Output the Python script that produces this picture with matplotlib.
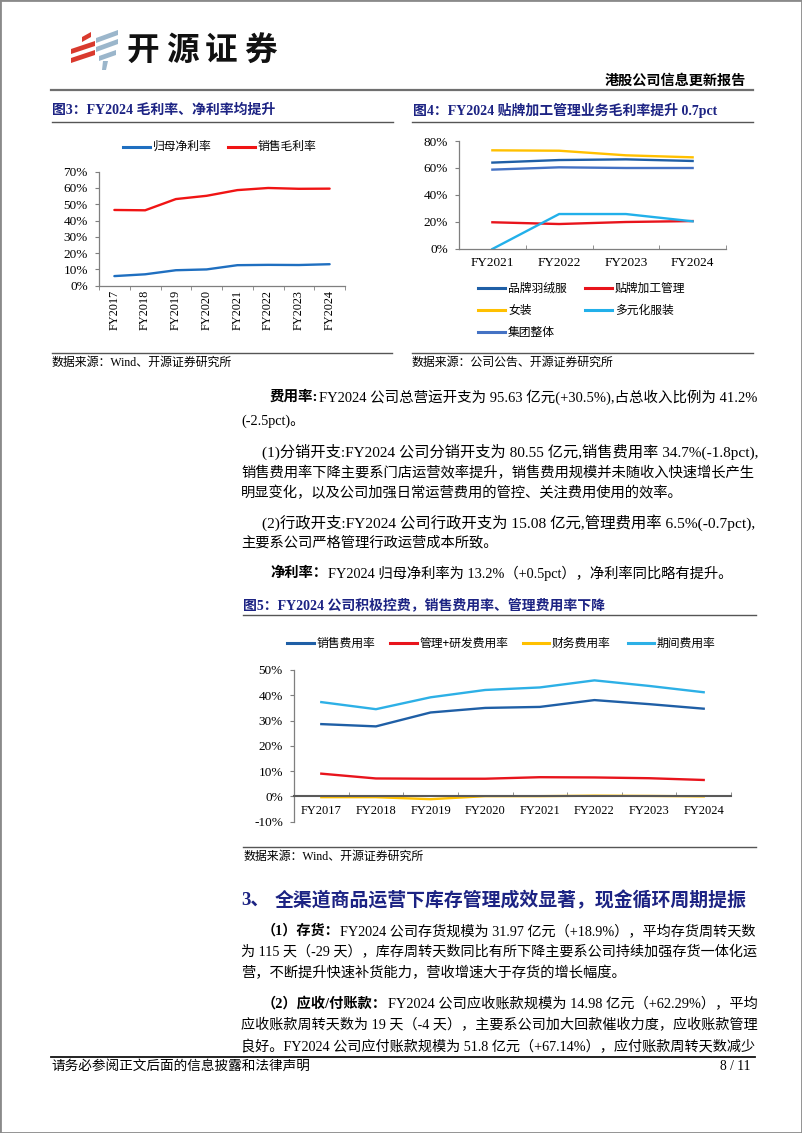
import numpy as np
import matplotlib.pyplot as plt
from matplotlib.lines import Line2D
from matplotlib.patches import Polygon, Rectangle
from matplotlib.ticker import FuncFormatter

W, H = 802, 1133
MIX = ['Liberation Serif', 'Noto Sans CJK SC']
CJK = ['Noto Sans CJK SC', 'DejaVu Sans']
NAVY = '#1c2383'

# 图3 data
years_a = ['FY2017', 'FY2018', 'FY2019', 'FY2020', 'FY2021', 'FY2022', 'FY2023', 'FY2024']
net_margin = [5.9, 7.0, 9.5, 10.0, 12.6, 12.8, 12.7, 13.2]
gross_margin = [46.5, 46.3, 53.2, 55.2, 58.7, 60.0, 59.5, 59.6]

# 图4 data
years_b = ['FY2021', 'FY2022', 'FY2023', 'FY2024']
down_gm = [64.0, 65.9, 66.4, 65.2]
oem_gm = [19.8, 18.5, 20.0, 20.7]
women_gm = [73.1, 72.8, 69.4, 67.9]
diversified_gm = [0.0, 25.9, 25.9, 20.5]
group_gm = [58.8, 60.5, 60.0, 60.0]

# 图5 data
selling_rate = [28.6, 27.7, 33.2, 35.0, 35.4, 38.1, 36.5, 34.7]
admin_rd_rate = [9.0, 7.1, 7.0, 7.0, 7.6, 7.5, 7.2, 6.5]
finance_rate = [-0.3, -0.3, -1.1, 0.1, 0.1, 0.3, 0.2, 0.0]
period_rate = [37.3, 34.5, 39.2, 42.1, 43.1, 45.9, 43.7, 41.2]

fig = plt.figure(figsize=(W / 100, H / 100), dpi=100)
rend = fig.canvas.get_renderer()


def fx(x):
    return x / W


def fy(y):
    return 1 - y / H


def put(x, y, s, size, bold=False, color='black', ha='left', family=MIX):
    return fig.text(fx(x), fy(y), s, fontsize=size, ha=ha, va='center',
                    fontweight='bold' if bold else 'normal', color=color, family=family)


def put_line(x, y, runs, size, right=None, color='black'):
    # draws the runs one after another; with right set, scales the size so the line fills it
    def draw(sz):
        cx = x
        out = []
        for s, bold in runs:
            t = put(cx, y, s, sz, bold, color)
            cx = t.get_window_extent(rend).x1 + 0.5
            out.append(t)
        return out, cx
    texts, end = draw(size)
    if right is not None:
        f = (right - x) / (end - x)
        for t in texts:
            t.remove()
        draw(size * f)


def hline(x0, x1, y, lw, color):
    fig.add_artist(Line2D([fx(x0), fx(x1)], [fy(y), fy(y)], lw=lw, color=color))


def poly(pts, color):
    fig.add_artist(Polygon([(fx(a), fy(b)) for a, b in pts], closed=True,
                           color=color, transform=fig.transFigure, lw=0))


def legend_item(x0, x1, y, color, label):
    fig.add_artist(Line2D([fx(x0), fx(x1)], [fy(y), fy(y)], lw=2.2, color=color))
    put(x1 + 3, y, label, 8.5, family=CJK)


def add_ax(l, t, r, b):
    return fig.add_axes([fx(l), fy(b), (r - l) / W, (b - t) / H])


def style_ax(ax, n, ylo, yhi, step, tick_dir, xpad):
    for s in ['top', 'right']:
        ax.spines[s].set_visible(False)
    for s in ['left', 'bottom']:
        ax.spines[s].set_color('#7f7f7f')
        ax.spines[s].set_linewidth(0.9)
    ax.set_xlim(-0.5, n - 0.5)
    ax.set_ylim(ylo, yhi)
    ax.set_yticks(np.arange(ylo, yhi + step / 2, step))
    ax.yaxis.set_major_formatter(FuncFormatter(lambda v, _: f'{v:.0f}%'))
    ax.set_xticks(np.arange(-0.5, n, 1.0), minor=True)
    ax.tick_params(axis='x', which='minor', length=3, direction=tick_dir, color='#7f7f7f')
    ax.tick_params(axis='x', which='major', length=0, pad=xpad)
    ax.tick_params(axis='y', length=3, color='#7f7f7f', pad=5)
    for lab in ax.get_yticklabels():
        lab.set_fontfamily('Liberation Serif')
        lab.set_fontsize(9.5)
    ax.patch.set_alpha(0)


# page border and header
fig.add_artist(Rectangle((0, 0), 1, 1, fill=False, edgecolor='#8a8a8a', lw=2,
                         transform=fig.transFigure))
red_logo = '#d93a2e'
blue_logo = '#9bb6cb'
poly([(82, 37), (91, 32), (91, 37), (82, 42)], red_logo)
poly([(71, 49), (95, 41), (95, 46), (71, 54)], red_logo)
poly([(71, 58), (95, 50), (95, 55), (71, 63)], red_logo)
poly([(96, 38), (118, 30), (118, 35), (96, 43)], blue_logo)
poly([(96, 47), (118, 39), (118, 44), (96, 52)], blue_logo)
poly([(99, 56), (116, 50), (116, 55), (99, 61)], blue_logo)
poly([(103, 61), (108, 61), (106, 70), (102, 70)], blue_logo)
for i, ch in enumerate('开源证券'):
    put(143 + i * 39, 50, ch, 23.5, bold=True, ha='center', family=CJK, color='#111111')
put(746, 81, '港股公司信息更新报告', 10.2, bold=True, ha='right', family=CJK)
hline(51, 753, 89.5, 1.6, '#6f6f6f')

# 图3
put(52, 110, '图3：FY2024 毛利率、净利率均提升', 10, bold=True, color=NAVY)
hline(52, 393, 121.7, 1.0, '#555555')
legend_item(123, 150, 146.7, '#1f6fc0', '归母净利率')
legend_item(228, 255, 146.7, '#f01414', '销售毛利率')
ax3 = add_ax(99, 171.7, 345, 285.7)
x = np.arange(len(years_a))
ax3.plot(x, net_margin, color='#1f6fc0', lw=1.7, solid_capstyle='round')
ax3.plot(x, gross_margin, color='#f01414', lw=1.7, solid_capstyle='round')
style_ax(ax3, len(years_a), 0, 70, 10, 'out', 3)
ax3.set_xticks(x)
ax3.set_xticklabels(years_a, rotation=90, family='Liberation Serif', fontsize=8.8)
hline(52, 392, 352.7, 1.0, '#555555')
put(52, 363, '数据来源：Wind、开源证券研究所', 8.6)

# 图4
put(413, 110, '图4：FY2024 贴牌加工管理业务毛利率提升 0.7pct', 10, bold=True, color=NAVY)
hline(412, 753, 121.7, 1.0, '#555555')
ax4 = add_ax(459, 141, 726, 249)
xb = np.arange(len(years_b))
ax4.plot(xb, women_gm, color='#ffc000', lw=1.7)
ax4.plot(xb, down_gm, color='#1f5fa6', lw=1.7)
ax4.plot(xb, group_gm, color='#4472c4', lw=1.7)
ax4.plot(xb, oem_gm, color='#e8141c', lw=1.7)
ax4.plot(xb, diversified_gm, color='#22b0ea', lw=1.7)
style_ax(ax4, len(years_b), 0, 80, 20, 'in', 5.5)
ax4.set_xticks(xb)
ax4.set_xticklabels(years_b, family='Liberation Serif', fontsize=9.5)
legend_item(478, 505, 288, '#1f5fa6', '品牌羽绒服')
legend_item(585, 612, 288, '#e8141c', '贴牌加工管理')
legend_item(478, 505, 310, '#ffc000', '女装')
legend_item(585, 612, 310, '#22b0ea', '多元化服装')
legend_item(478, 505, 332, '#4472c4', '集团整体')
hline(412, 753, 352.7, 1.0, '#555555')
put(412, 363, '数据来源：公司公告、开源证券研究所', 8.6)

# body text 1
BODY = 10.3
R = 754.5
put_line(270, 396.7, [('费用率:', True),
                      ('FY2024 公司总营运开支为 95.63 亿元(+30.5%),占总收入比例为 41.2%', False)], BODY, R)
put_line(241, 421.7, [('(-2.5pct)。', False)], BODY)
put_line(262, 451.7, [('(1)分销开支:FY2024 公司分销开支为 80.55 亿元,销售费用率 34.7%(-1.8pct),', False)], BODY, R)
put_line(241, 473, [('销售费用率下降主要系门店运营效率提升，销售费用规模并未随收入快速增长产生', False)], BODY, R)
put_line(241, 493, [('明显变化，以及公司加强日常运营费用的管控、关注费用使用的效率。', False)], BODY)
put_line(262, 523, [('(2)行政开支:FY2024 公司行政开支为 15.08 亿元,管理费用率 6.5%(-0.7pct),', False)], BODY, R)
put_line(241, 543, [('主要系公司严格管理行政运营成本所致。', False)], BODY)
put_line(270, 573, [('净利率：', True),
                    ('FY2024 归母净利率为 13.2%（+0.5pct），净利率同比略有提升。', False)], BODY)

# 图5
put(243, 605, '图5：FY2024 公司积极控费，销售费用率、管理费用率下降', 10, bold=True, color=NAVY)
hline(243, 756, 615, 1.0, '#555555')
legend_item(287, 314, 643, '#1f5fa6', '销售费用率')
legend_item(390, 417, 643, '#e8141c', '管理+研发费用率')
legend_item(523, 549, 643, '#ffc000', '财务费用率')
legend_item(628, 654, 643, '#2db0e6', '期间费用率')
ax5 = add_ax(294, 670, 731, 821.7)
ax5.plot(x, selling_rate, color='#1f5fa6', lw=1.7)
ax5.plot(x, admin_rd_rate, color='#e8141c', lw=1.7)
ax5.plot(x, finance_rate, color='#ffc000', lw=1.7)
ax5.plot(x, period_rate, color='#2db0e6', lw=1.7)
style_ax(ax5, len(years_a), -10, 50, 10, 'in', 6)
ax5.spines['bottom'].set_position(('data', 0))
ax5.spines['bottom'].set_color('#595959')
ax5.spines['bottom'].set_linewidth(1.5)
ax5.spines['bottom'].set_zorder(3)
ax5.set_xticks(x)
ax5.set_xticklabels(years_a, family='Liberation Serif', fontsize=9)
hline(243, 756, 847, 1.0, '#555555')
put(243, 857, '数据来源：Wind、开源证券研究所', 8.6)

# section 3
put(241, 900, '3、', 13.6, bold=True, color=NAVY)
put(274.6, 900, '全渠道商品运营下库存管理成效显著，现金循环周期提振', 13.6, bold=True, color=NAVY,
    family=CJK)
put_line(262, 931, [('（1）存货：', True),
                    ('FY2024 公司存货规模为 31.97 亿元（+18.9%），平均存货周转天数', False)], BODY, R)
put_line(241, 951.7, [('为 115 天（-29 天），库存周转天数同比有所下降主要系公司持续加强存货一体化运', False)], BODY, R)
put_line(241, 973, [('营，不断提升快速补货能力，营收增速大于存货的增长幅度。', False)], BODY)
put_line(262, 1004, [('（2）应收/付账款：', True),
                     ('FY2024 公司应收账款规模为 14.98 亿元（+62.29%），平均', False)], BODY, R)
put_line(241, 1025, [('应收账款周转天数为 19 天（-4 天），主要系公司加大回款催收力度，应收账款管理', False)], BODY, R)
put_line(241, 1046.7, [('良好。FY2024 公司应付账款规模为 51.8 亿元（+67.14%），应付账款周转天数减少', False)], BODY, R)

# footer
hline(51, 755, 1056.5, 1.3, '#111111')
put(51, 1066, '请务必参阅正文后面的信息披露和法律声明', 9.8)
put(750, 1066, '8 / 11', 9.8, ha='right')

fig.savefig('out.png', dpi=100)
